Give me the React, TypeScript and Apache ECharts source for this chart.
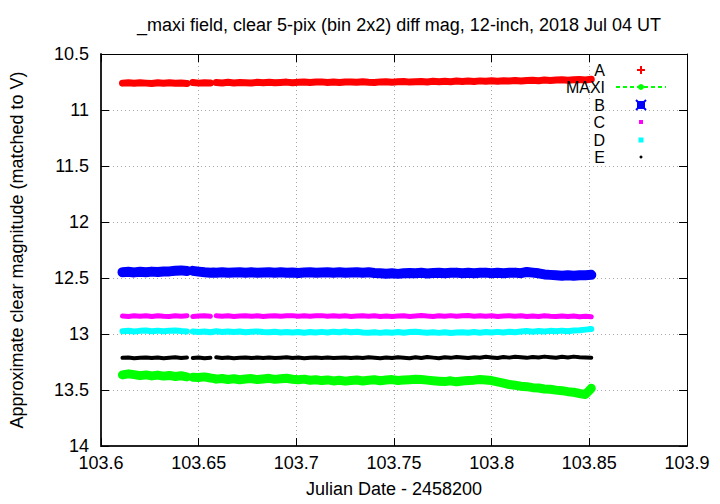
import React, { useEffect, useRef } from "react";
import * as echarts from "echarts";

const titleText = "_maxi field, clear 5-pix (bin 2x2) diff mag, 12-inch, 2018 Jul 04 UT";
const xName = "Julian Date - 2458200";
const yName = "Approximate clear magnitude (matched to V)";
const seriesNames = ["A", "MAXI", "B", "C", "D", "E"];
const seriesColors = ["#ff0000", "#00ff00", "#0000ff", "#ff00ff", "#00ffff", "#000000"];

// observation times (JD - 2458200); gap entries carry no value in some series
const times = [
  103.611, 103.614, 103.617, 103.620, 103.623, 103.626, 103.629, 103.632, 103.635, 103.638, 103.641, 103.644,
  103.6455,
  103.647, 103.650, 103.653, 103.656,
  103.6575,
  103.659, 103.662, 103.665, 103.668, 103.671, 103.674, 103.677, 103.680, 103.683, 103.686, 103.689,
  103.692, 103.695, 103.698, 103.701, 103.704, 103.707, 103.710, 103.713, 103.716, 103.719, 103.722, 103.725,
  103.728, 103.731, 103.734, 103.737, 103.740, 103.743, 103.746, 103.749, 103.752, 103.755, 103.758, 103.761,
  103.764, 103.767, 103.770, 103.773, 103.776, 103.779, 103.782, 103.785, 103.788, 103.791, 103.794, 103.797,
  103.800, 103.803, 103.806, 103.809, 103.812, 103.815, 103.818, 103.821, 103.824, 103.827, 103.830, 103.833,
  103.836, 103.839, 103.842, 103.845, 103.848, 103.851,
];

const magA = [
  10.760, 10.757, 10.762, 10.756, 10.760, 10.763, 10.757, 10.761, 10.756, 10.762, 10.758, 10.763,
  null,
  10.755, 10.760, 10.756, 10.759,
  null,
  10.754, 10.758, 10.753, 10.759, 10.755, 10.756, 10.758, 10.753, 10.757, 10.752, 10.756,
  10.754, 10.751, 10.756, 10.752, 10.750, 10.755, 10.751, 10.749, 10.754, 10.750, 10.755, 10.751,
  10.749, 10.753, 10.748, 10.752, 10.754, 10.749, 10.747, 10.752, 10.748, 10.746, 10.751, 10.747,
  10.745, 10.750, 10.744, 10.748, 10.743, 10.747, 10.742, 10.746, 10.741, 10.745, 10.740, 10.744,
  10.739, 10.743, 10.738, 10.742, 10.737, 10.741, 10.736, 10.734, 10.739, 10.733, 10.737, 10.732,
  10.730, 10.735, 10.729, 10.727, 10.732, 10.726,
];

const magMAXI = [
  13.365, 13.356, 13.363, 13.372, 13.365, 13.374, 13.367, 13.376, 13.370, 13.379, 13.373, 13.383,
  null,
  13.386, 13.389, 13.383, 13.393,
  13.396,
  13.403, 13.397, 13.406, 13.400, 13.409, 13.402, 13.398, 13.407, 13.401, 13.396, 13.405,
  13.400, 13.395, 13.404, 13.409, 13.403, 13.413, 13.408, 13.416, 13.410, 13.419, 13.413, 13.421,
  13.415, 13.411, 13.419, 13.413, 13.409, 13.417, 13.411, 13.407, 13.415, 13.411, 13.408, 13.404,
  13.406, 13.412, 13.417, 13.421, 13.425, 13.418, 13.427, 13.420, 13.416, 13.412, 13.406, 13.410,
  13.416, 13.427, 13.439, 13.451, 13.458, 13.466, 13.470, 13.479, 13.482, 13.491, 13.494, 13.501,
  13.506, 13.515, 13.520, 13.531, 13.540, 13.485,
];

const magB = [
  12.448, 12.445, 12.450, 12.444, 12.448, 12.443, 12.447, 12.442, 12.441, 12.435, 12.432, 12.438,
  null,
  12.436, 12.443, 12.449, 12.453,
  12.451,
  12.453, 12.449, 12.454, 12.450, 12.448, 12.453, 12.449, 12.454, 12.450, 12.448, 12.453,
  12.449, 12.454, 12.450, 12.455, 12.451, 12.449, 12.454, 12.450, 12.448, 12.453, 12.449, 12.454,
  12.450, 12.448, 12.453, 12.449, 12.455, 12.458, 12.462, 12.458, 12.463, 12.457, 12.455, 12.458,
  12.454, 12.459, 12.455, 12.453, 12.458, 12.454, 12.452, 12.457, 12.453, 12.458, 12.454, 12.452,
  12.457, 12.453, 12.458, 12.454, 12.452, 12.457, 12.446, 12.452, 12.458, 12.468, 12.472, 12.475,
  12.479, 12.475, 12.480, 12.476, 12.475, 12.472,
];

const magC = [
  12.840, 12.843, 12.837, 12.842, 12.838, 12.844, 12.837, 12.841, 12.843, 12.838, 12.842, 12.837,
  null,
  12.844, 12.839, 12.837, 12.842,
  null,
  12.837, 12.842, 12.838, 12.843, 12.839, 12.837, 12.842, 12.838, 12.843, 12.839, 12.837,
  12.842, 12.838, 12.836, 12.841, 12.837, 12.842, 12.838, 12.836, 12.841, 12.837, 12.842, 12.838,
  12.843, 12.839, 12.837, 12.842, 12.838, 12.843, 12.839, 12.844, 12.840, 12.838, 12.843, 12.839,
  12.835, 12.840, 12.843, 12.837, 12.841, 12.836, 12.842, 12.837, 12.835, 12.841, 12.837, 12.842,
  12.838, 12.843, 12.839, 12.837, 12.842, 12.838, 12.844, 12.839, 12.843, 12.838, 12.842, 12.844,
  12.839, 12.844, 12.840, 12.845, 12.841, 12.846,
];

const magD = [
  12.975, 12.971, 12.977, 12.972, 12.969, 12.975, 12.970, 12.976, 12.971, 12.968, 12.974, 12.977,
  null,
  12.978, 12.983, 12.978, 12.984,
  12.980,
  12.976, 12.982, 12.977, 12.983, 12.978, 12.984, 12.979, 12.977, 12.983, 12.985, 12.980,
  12.986, 12.982, 12.987, 12.983, 12.988, 12.982, 12.987, 12.981, 12.986, 12.979, 12.984, 12.978,
  12.984, 12.980, 12.986, 12.989, 12.985, 12.990, 12.984, 12.989, 12.983, 12.988, 12.982, 12.979,
  12.985, 12.988, 12.984, 12.990, 12.985, 12.991, 12.986, 12.984, 12.989, 12.983, 12.988, 12.982,
  12.987, 12.981, 12.986, 12.980, 12.984, 12.978, 12.974, 12.979, 12.973, 12.978, 12.972, 12.976,
  12.970, 12.975, 12.968, 12.966, 12.961, 12.956,
];

const magE = [
  13.213, 13.210, 13.216, 13.212, 13.209, 13.215, 13.210, 13.217, 13.212, 13.208, 13.214, 13.210,
  null,
  13.215, 13.209, 13.217, 13.212,
  null,
  13.208, 13.214, 13.210, 13.216, 13.212, 13.209, 13.215, 13.210, 13.214, 13.209, 13.215,
  13.212, 13.208, 13.214, 13.210, 13.216, 13.212, 13.209, 13.214, 13.210, 13.215, 13.212, 13.209,
  13.214, 13.210, 13.215, 13.208, 13.212, 13.217, 13.209, 13.214, 13.207, 13.212, 13.216, 13.208,
  13.214, 13.206, 13.211, 13.216, 13.208, 13.213, 13.205, 13.210, 13.215, 13.207, 13.212, 13.204,
  13.209, 13.214, 13.206, 13.211, 13.203, 13.208, 13.213, 13.205, 13.210, 13.202, 13.207, 13.212,
  13.204, 13.209, 13.202, 13.207, 13.210, 13.212,
];

const seriesValues = [magA, magMAXI, magB, magC, magD, magE];
const bandWidths = [7, 9, 10, 5, 6, 4];

const FONT = "Liberation Sans, Arial, sans-serif";

export default function App() {
  const ref = useRef<HTMLDivElement>(null);

  useEffect(() => {
    if (!ref.current) return;
    const chart = echarts.init(ref.current, null, { renderer: "svg" });

    const fmt = (v: number) => String(+v.toFixed(2));
    const gridLine = { show: true, lineStyle: { color: "#a8a8a8", type: [1, 3] as any, width: 1 } };
    const axLineMain = { show: true, lineStyle: { color: "#222", width: 2 } };
    const axLineMirror = { show: true, lineStyle: { color: "#000", width: 1 } };
    const tick = { show: true, inside: true, length: 8, lineStyle: { color: "#000", width: 1 } };
    const labelStyle = { color: "#000", fontSize: 18, fontFamily: FONT };

    const series = seriesNames.map((name, k) => ({
      name,
      type: "line",
      xAxisIndex: 0,
      yAxisIndex: 0,
      showSymbol: false,
      symbol: "none",
      connectNulls: false,
      lineStyle: { color: seriesColors[k], width: bandWidths[k], join: "round", cap: "round" },
      itemStyle: { color: seriesColors[k] },
      data: times.map((t, i) => [t, seriesValues[k][i] === null ? "-" : seriesValues[k][i]]),
      z: 3,
    }));

    // legend drawn gnuplot-style: right-justified label, sample to its right
    const lx = 605;
    const sx = 641;
    const ly = [70, 87, 105, 122, 140, 157];
    const graphic: any[] = [];
    seriesNames.forEach((n, k) => {
      graphic.push({
        type: "text",
        x: lx,
        y: ly[k],
        style: { text: n, fill: "#000", font: `16px ${FONT}`, textAlign: "right", textVerticalAlign: "middle" },
        z: 10,
      });
    });
    // A: plus
    graphic.push({ type: "line", shape: { x1: sx - 4, y1: ly[0], x2: sx + 4, y2: ly[0] }, style: { stroke: seriesColors[0], lineWidth: 2 }, z: 10 });
    graphic.push({ type: "line", shape: { x1: sx, y1: ly[0] - 4, x2: sx, y2: ly[0] + 4 }, style: { stroke: seriesColors[0], lineWidth: 2 }, z: 10 });
    // MAXI: dashed line with point
    graphic.push({ type: "line", shape: { x1: 616, y1: ly[1], x2: 666, y2: ly[1] }, style: { stroke: seriesColors[1], lineWidth: 2, lineDash: [4, 3] }, z: 10 });
    graphic.push({ type: "circle", shape: { cx: sx, cy: ly[1], r: 3 }, style: { fill: seriesColors[1] }, z: 10 });
    // B: boxed cross
    graphic.push({ type: "rect", shape: { x: sx - 4, y: ly[2] - 4, width: 8, height: 8 }, style: { fill: seriesColors[2] }, z: 10 });
    graphic.push({ type: "line", shape: { x1: sx - 5, y1: ly[2] - 5, x2: sx + 5, y2: ly[2] + 5 }, style: { stroke: seriesColors[2], lineWidth: 2 }, z: 10 });
    graphic.push({ type: "line", shape: { x1: sx - 5, y1: ly[2] + 5, x2: sx + 5, y2: ly[2] - 5 }, style: { stroke: seriesColors[2], lineWidth: 2 }, z: 10 });
    // C, D, E: small squares / dot
    graphic.push({ type: "rect", shape: { x: sx - 2, y: ly[3] - 2, width: 4, height: 4 }, style: { fill: seriesColors[3] }, z: 10 });
    graphic.push({ type: "rect", shape: { x: sx - 2.5, y: ly[4] - 2.5, width: 5, height: 5 }, style: { fill: seriesColors[4] }, z: 10 });
    graphic.push({ type: "circle", shape: { cx: sx, cy: ly[5], r: 1.5 }, style: { fill: seriesColors[5] }, z: 10 });

    const option: any = {
      animation: false,
      backgroundColor: "#fff",
      title: {
        text: titleText,
        left: 394,
        top: 11,
        textAlign: "center",
        textStyle: { fontSize: 18, fontWeight: "normal", fontFamily: FONT, color: "#000" },
      },
      grid: { left: 100, right: 33, top: 54, bottom: 58, containLabel: false },
      xAxis: [
        {
          type: "value",
          min: 103.6,
          max: 103.9,
          interval: 0.05,
          position: "bottom",
          axisLine: axLineMain,
          axisTick: tick,
          axisLabel: { ...labelStyle, margin: 8, formatter: fmt },
          splitLine: gridLine,
          name: xName,
          nameLocation: "middle",
          nameGap: 34,
          nameTextStyle: labelStyle,
        },
        {
          type: "value",
          min: 103.6,
          max: 103.9,
          interval: 0.05,
          position: "top",
          axisLine: axLineMirror,
          axisTick: tick,
          axisLabel: { show: false },
          splitLine: { show: false },
        },
      ],
      yAxis: [
        {
          type: "value",
          inverse: true,
          min: 10.5,
          max: 14,
          interval: 0.5,
          position: "left",
          axisLine: axLineMain,
          axisTick: tick,
          axisLabel: { ...labelStyle, margin: 12, formatter: fmt },
          splitLine: gridLine,
          name: yName,
          nameLocation: "middle",
          nameGap: 75,
          nameRotate: 90,
          nameTextStyle: labelStyle,
        },
        {
          type: "value",
          inverse: true,
          min: 10.5,
          max: 14,
          interval: 0.5,
          position: "right",
          axisLine: axLineMirror,
          axisTick: tick,
          axisLabel: { show: false },
          splitLine: { show: false },
        },
      ],
      series,
      graphic,
    };

    chart.setOption(option);
    return () => chart.dispose();
  }, []);

  return (
    <div
      ref={ref}
      style={{ position: "absolute", left: 0, top: 0, width: 720, height: 504, background: "#fff" }}
    />
  );
}
